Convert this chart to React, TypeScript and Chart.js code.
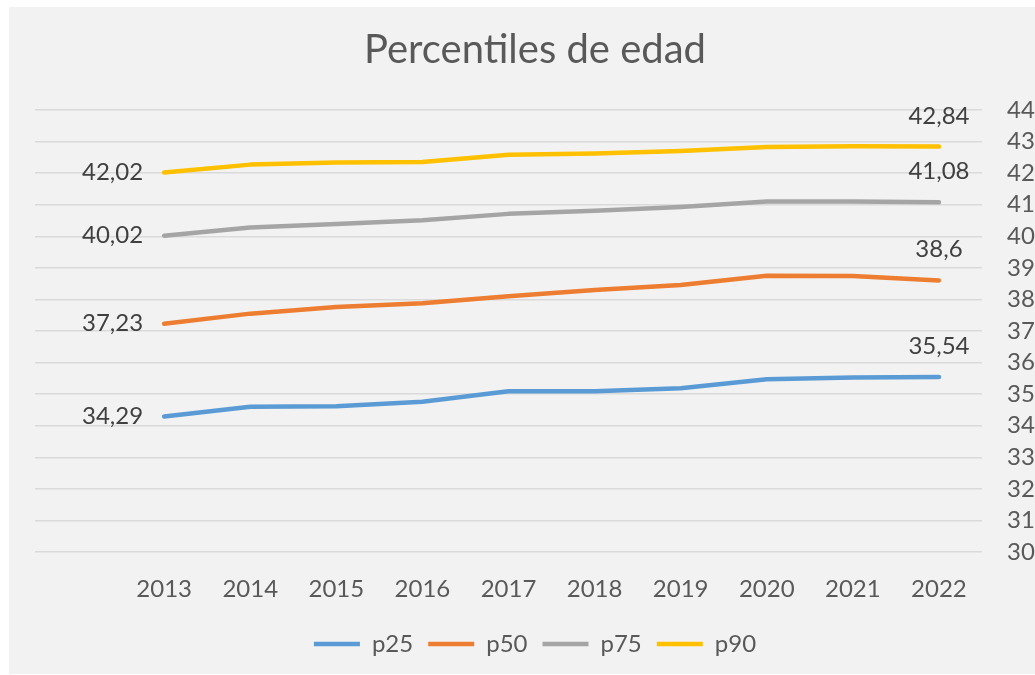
import React, { useEffect, useRef } from "react";
import { Chart, registerables } from "chart.js";

Chart.register(...registerables);

const title = "Percentiles de edad";
const categories = ["2013", "2014", "2015", "2016", "2017", "2018", "2019", "2020", "2021", "2022"];
const seriesNames = ["p25", "p50", "p75", "p90"];
const p25 = [34.29, 34.6, 34.62, 34.76, 35.09, 35.09, 35.19, 35.47, 35.53, 35.54];
const p50 = [37.23, 37.55, 37.76, 37.88, 38.1, 38.3, 38.46, 38.75, 38.74, 38.6];
const p75 = [40.02, 40.28, 40.39, 40.51, 40.71, 40.81, 40.93, 41.1, 41.1, 41.08];
const p90 = [42.02, 42.27, 42.34, 42.35, 42.58, 42.62, 42.7, 42.83, 42.85, 42.84];
const yMin = 30;
const yMax = 44;
const colors = ["#5B9BD5", "#ED7D31", "#A5A5A5", "#FFC000"];

const FONT = "Lato, 'Open Sans', sans-serif";

const fmt = (v: number) => String(v).replace(".", ",");

const labelPlugin = {
  id: "endLabels",
  afterDatasetsDraw(chart: any) {
    const ctx = chart.ctx;
    ctx.save();
    ctx.font = `24px ${FONT}`;
    ctx.fillStyle = "#404040";
    chart.data.datasets.forEach((ds: any, i: number) => {
      const meta = chart.getDatasetMeta(i);
      const first = 1;
      const last = ds.data.length - 1;
      const p1 = meta.data[first];
      const p2 = meta.data[last];
      if (p1) {
        ctx.textAlign = "right";
        ctx.textBaseline = "middle";
        ctx.fillText(fmt(ds.data[first]), p1.x - 21, p1.y);
      }
      if (p2) {
        ctx.textAlign = "center";
        ctx.textBaseline = "alphabetic";
        ctx.fillText(fmt(ds.data[last]), p2.x, p2.y - 23);
      }
    });
    ctx.restore();
  },
};

export default function App() {
  const ref = useRef<HTMLCanvasElement | null>(null);

  useEffect(() => {
    if (!ref.current) return;
    const all = [p25, p50, p75, p90];
    const chart = new Chart(ref.current, {
      type: "line",
      data: {
        labels: ["", ...categories],
        datasets: all.map((vals, i) => ({
          label: seriesNames[i],
          data: [null, ...vals],
          borderColor: colors[i],
          backgroundColor: colors[i],
          borderWidth: 4.5,
          borderCapStyle: "round",
          borderJoinStyle: "round",
          pointRadius: 0,
          pointHoverRadius: 0,
          tension: 0,
        })),
      },
      options: {
        animation: false,
        responsive: false,
        layout: { padding: { left: 26, right: 0, top: 0, bottom: 21 } },
        plugins: {
          tooltip: { enabled: false },
          title: {
            display: true,
            text: title,
            color: "#595959",
            font: { family: FONT, size: 40, weight: "normal" },
            padding: { top: 19, bottom: 36 },
          },
          legend: {
            position: "bottom",
            labels: {
              usePointStyle: true,
              pointStyle: "line",
              pointStyleWidth: 46,
              color: "#595959",
              font: { family: FONT, size: 24 },
              padding: 15,
            },
          },
        },
        scales: {
          x: {
            type: "category",
            offset: true,
            grid: { display: false, drawTicks: false },
            border: { display: false },
            ticks: {
              color: "#595959",
              font: { family: FONT, size: 24 },
              autoSkip: false,
              maxRotation: 0,
              padding: 23,
            },
            afterFit: (s: any) => {
              s.height = 65;
            },
          },
          y: {
            position: "right",
            min: yMin,
            max: yMax,
            grid: { color: "#DADADA", lineWidth: 1.5, drawTicks: false },
            border: { display: false },
            ticks: {
              stepSize: 1,
              autoSkip: false,
              color: "#595959",
              font: { family: FONT, size: 24 },
              padding: 25,
            },
            afterFit: (s: any) => {
              s.width = 53;
            },
          },
        },
      },
      plugins: [labelPlugin],
    });
    return () => chart.destroy();
  }, []);

  return (
    <div style={{ position: "fixed", left: 0, top: 0, width: 1035, height: 675, background: "#ffffff", overflow: "hidden" }}>
      <div style={{ position: "absolute", left: 9, top: 7, width: 1026, height: 667, background: "#F2F2F2", overflow: "hidden" }}>
        <canvas ref={ref} width={1026} height={680} style={{ display: "block" }} />
      </div>
    </div>
  );
}
